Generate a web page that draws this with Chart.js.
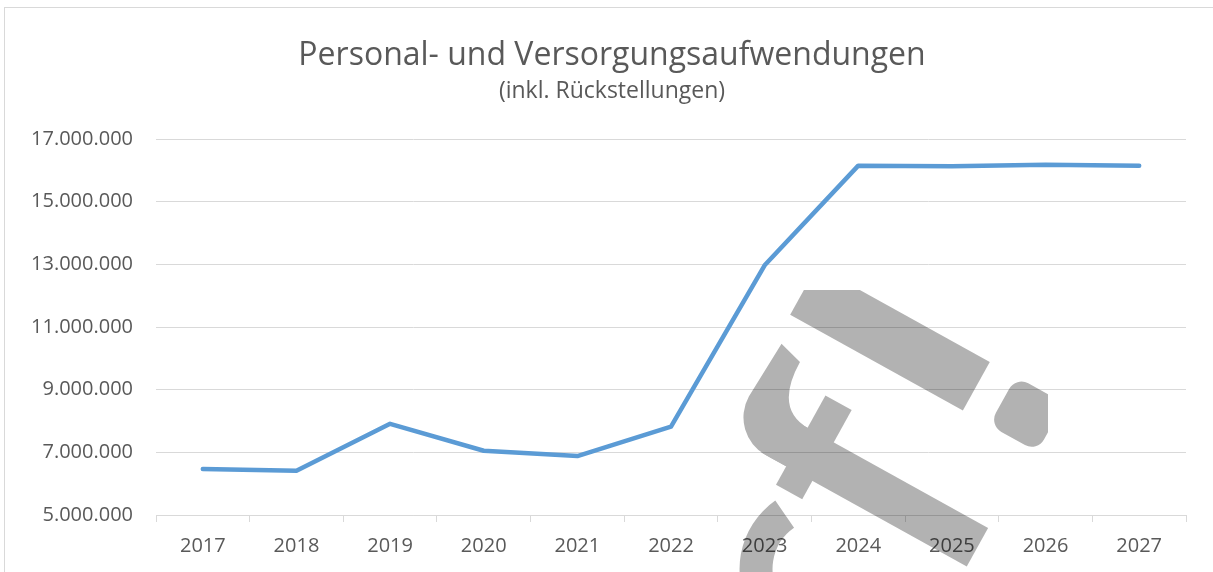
<!DOCTYPE html>
<html lang="de">
<head>
<meta charset="utf-8">
<title>Personal- und Versorgungsaufwendungen</title>
<script src="https://cdn.jsdelivr.net/npm/chart.js@4.4.1/dist/chart.umd.min.js"></script>
<style>
    html, body { margin: 0; padding: 0; background: #fff; }
    #rahmen {
        position: absolute; left: 4px; top: 7px; width: 1300px; height: 700px;
        border-left: 1px solid #d9d9d9; border-top: 1px solid #d9d9d9;
    }
    #wrap { position: absolute; left: 0; top: 0; width: 1213px; height: 572px; }
</style>
</head>
<body>
<div id="rahmen"></div>
<div id="wrap"><canvas id="grafik"></canvas></div>
<script>
// --- DATEN ---
const jahre = ['2017', '2018', '2019', '2020', '2021', '2022', '2023', '2024', '2025', '2026', '2027'];
const aufwendungen = [6470000, 6410000, 7910000, 7050000, 6880000, 7820000, 12970000, 16150000, 16130000, 16180000, 16150000];
const yTicks = [5000000, 7000000, 9000000, 11000000, 13000000, 15000000, 17000000];

const TEXT_GRAU = '#595959';
const GITTER = '#d9d9d9';
const LINIE_BLAU = '#5b9bd5';
const SCHRIFT = "'Open Sans', 'Noto Sans', sans-serif";

// Tausenderpunkte wie in Excel (de-DE)
function mitPunkten(v) {
    return String(v).replace(/\B(?=(\d{3})+(?!\d))/g, '.');
}

// --- WASSERZEICHEN (graues Logo rechts unten) ---
const wasserzeichen = {
    id: 'wasserzeichen',
    afterDraw(chart) {
        const c = chart.ctx;
        const off = document.createElement('canvas');
        off.width = chart.width;
        off.height = chart.height;
        const o = off.getContext('2d');
        o.beginPath();
        o.rect(735, 290, 313, 282);
        o.clip();
        o.translate(800, 362);
        o.rotate(-61 * Math.PI / 180);
        o.fillStyle = '#000';
        // f: Stamm, Querstrich, Bogen
        o.fillRect(-98, 10, 44, 235);
        o.fillRect(-119, 38.5, 102, 30);
        o.beginPath();
        o.moveTo(-98, 20);
        o.arc(-55, 15, 43, Math.PI, 1.5 * Math.PI);
        o.lineTo(7, -25);
        o.lineTo(0, 0);
        o.quadraticCurveTo(-54, 0, -54, 40);
        o.lineTo(-98, 40);
        o.closePath();
        o.fill();
        // Ausrufezeichen
        o.fillRect(36.5, -31.5, 55.5, 197.5);
        o.beginPath();
        o.roundRect(36.5, 196, 55.5, 55, 14);
        o.fill();
        // Bogen links unten
        const a1 = -63.7 * Math.PI / 180, a2 = -200 * Math.PI / 180;
        o.beginPath();
        o.arc(-170, 120, 83, a1, a2, true);
        o.arc(-170, 120, 50, a2, a1, false);
        o.closePath();
        o.fill();

        c.save();
        c.globalAlpha = 0.3;
        c.drawImage(off, 0, 0);
        c.restore();
    }
};

// --- DIAGRAMM ---
const ctx = document.getElementById('grafik').getContext('2d');
new Chart(ctx, {
    type: 'line',
    data: {
        labels: jahre,
        datasets: [{
            label: 'Personal- und Versorgungsaufwendungen',
            data: aufwendungen,
            borderColor: LINIE_BLAU,
            borderWidth: 4.5,
            borderCapStyle: 'round',
            borderJoinStyle: 'round',
            pointRadius: 0,
            tension: 0,
            fill: false
        }]
    },
    options: {
        responsive: true,
        maintainAspectRatio: false,
        animation: false,
        layout: { padding: { left: 11, right: 0, top: 0, bottom: 0 } },
        plugins: {
            legend: { display: false },
            tooltip: { enabled: false },
            title: {
                display: true,
                text: 'Personal- und Versorgungsaufwendungen',
                color: TEXT_GRAU,
                font: { family: SCHRIFT, size: 32, weight: 'normal', lineHeight: 1.2 },
                padding: { top: 37.1, bottom: 0 }
            },
            subtitle: {
                display: true,
                text: '(inkl. Rückstellungen)',
                color: TEXT_GRAU,
                font: { family: SCHRIFT, size: 23, weight: 'normal', lineHeight: 1.2 },
                padding: { top: 2.1, bottom: 33.8 }
            }
        },
        scales: {
            x: {
                offset: true,
                grid: {
                    offset: true,
                    drawOnChartArea: false,
                    drawTicks: true,
                    tickLength: 7,
                    color: GITTER
                },
                border: { display: true, color: GITTER, width: 1 },
                ticks: {
                    color: TEXT_GRAU,
                    font: { family: SCHRIFT, size: 20 },
                    padding: 12,
                    maxRotation: 0,
                    autoSkip: false
                },
                afterFit(scale) { scale.height = 57; }
            },
            y: {
                min: 5000000,
                max: 17000000,
                afterBuildTicks(scale) { scale.ticks = yTicks.map(v => ({ value: v })); },
                grid: { color: GITTER, lineWidth: 1, drawTicks: false },
                border: { display: false },
                ticks: {
                    color: TEXT_GRAU,
                    font: { family: SCHRIFT, size: 20 },
                    padding: 23,
                    callback: (v) => mitPunkten(v)
                },
                afterFit(scale) { scale.width = 145; }
            },
            // leere Achse rechts, hält den Abstand zum Rand frei
            rand: {
                type: 'linear',
                position: 'right',
                grid: { display: false },
                border: { display: false },
                ticks: { display: false },
                afterFit(scale) { scale.width = 27; }
            }
        }
    },
    plugins: [wasserzeichen]
});
</script>
</body>
</html>
